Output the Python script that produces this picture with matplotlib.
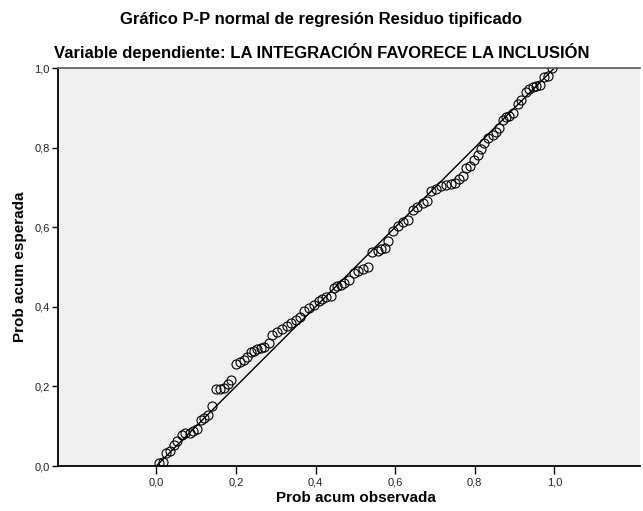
import matplotlib
matplotlib.use("Agg")
import matplotlib.pyplot as plt
from matplotlib.ticker import FuncFormatter

plt.rcParams['font.family'] = ['Liberation Sans', 'DejaVu Sans']

title1 = "Gráfico P-P normal de regresión Residuo tipificado"
title2 = "Variable dependiente: LA INTEGRACIÓN FAVORECE LA INCLUSIÓN"
xlabel = "Prob acum observada"
ylabel = "Prob acum esperada"

obs = [0.006, 0.017, 0.025, 0.035, 0.044, 0.052, 0.065, 0.073, 0.084, 0.092,
       0.102, 0.111, 0.119, 0.131, 0.140, 0.151, 0.161, 0.169, 0.179, 0.188,
       0.200, 0.210, 0.219, 0.229, 0.239, 0.245, 0.254, 0.262, 0.270, 0.282,
       0.291, 0.304, 0.316, 0.329, 0.339, 0.350, 0.360, 0.370, 0.383, 0.395,
       0.408, 0.417, 0.426, 0.438, 0.446, 0.455, 0.463, 0.471, 0.484, 0.496,
       0.506, 0.518, 0.531, 0.543, 0.556, 0.565, 0.574, 0.582, 0.594, 0.606,
       0.619, 0.631, 0.644, 0.656, 0.669, 0.680, 0.690, 0.703, 0.715, 0.728,
       0.740, 0.751, 0.761, 0.770, 0.778, 0.789, 0.799, 0.808, 0.816, 0.824,
       0.834, 0.846, 0.854, 0.861, 0.871, 0.879, 0.887, 0.896, 0.908, 0.917,
       0.929, 0.937, 0.946, 0.955, 0.965, 0.975, 0.984, 0.994]
esp = [0.008, 0.011, 0.033, 0.038, 0.052, 0.063, 0.079, 0.082, 0.082, 0.088,
       0.092, 0.116, 0.120, 0.128, 0.151, 0.193, 0.194, 0.196, 0.206, 0.216,
       0.257, 0.261, 0.267, 0.273, 0.287, 0.290, 0.293, 0.296, 0.300, 0.309,
       0.328, 0.336, 0.344, 0.351, 0.359, 0.367, 0.375, 0.389, 0.396, 0.405,
       0.415, 0.420, 0.424, 0.428, 0.447, 0.452, 0.456, 0.461, 0.468, 0.485,
       0.490, 0.494, 0.500, 0.538, 0.540, 0.545, 0.548, 0.566, 0.591, 0.602,
       0.613, 0.618, 0.643, 0.650, 0.660, 0.666, 0.690, 0.695, 0.703, 0.707,
       0.708, 0.712, 0.722, 0.728, 0.748, 0.754, 0.768, 0.781, 0.796, 0.812,
       0.824, 0.832, 0.840, 0.849, 0.870, 0.876, 0.879, 0.887, 0.910, 0.919,
       0.940, 0.946, 0.952, 0.954, 0.957, 0.977, 0.981, 1.000]
ref_line = [0.0, 1.0]
ticks = [0.0, 0.2, 0.4, 0.6, 0.8, 1.0]

fig = plt.figure(figsize=(6.43, 5.11), dpi=100)
ax = fig.add_axes([58/643, 45/511, 582/643, 398/511])
ax.set_facecolor('#f0f0f0')
ax.plot(ref_line, ref_line, color='black', lw=1.0, zorder=2)
ax.plot(obs, esp, linestyle='none', marker='o', markersize=6.5,
        markerfacecolor='none', markeredgecolor='black', markeredgewidth=0.8, zorder=3)
ax.set_xlim(-0.247, 1.215)
ax.set_ylim(0, 1.0)
ax.set_xticks(ticks)
ax.set_yticks(ticks)
fmt = FuncFormatter(lambda v, p: f"{v:.1f}".replace('.', ','))
ax.xaxis.set_major_formatter(fmt)
ax.yaxis.set_major_formatter(fmt)
ax.tick_params(axis='both', labelsize=8, width=1, color='black', labelcolor='#222222')
ax.tick_params(axis='x', length=6, pad=2)
ax.tick_params(axis='y', length=4, pad=2)
for s in ['left', 'bottom']:
    ax.spines[s].set_color('black')
    ax.spines[s].set_linewidth(1.3)
ax.spines['top'].set_color('#666666')
ax.spines['top'].set_linewidth(1.3)
ax.spines['right'].set_visible(False)

fig.text(0.5, 1 - 19/511, title1, ha='center', va='center', fontsize=12, fontweight='bold')
fig.text(0.5, 1 - 52/511, title2, ha='center', va='center', fontsize=12, fontweight='bold')
fig.text(356/643, 1 - 498/511, xlabel, ha='center', va='center', fontsize=11, fontweight='bold')
fig.text(20/643, 1 - 267/511, ylabel, ha='center', va='center', fontsize=11, fontweight='bold', rotation=90)

fig.savefig("out.png", dpi=100)
